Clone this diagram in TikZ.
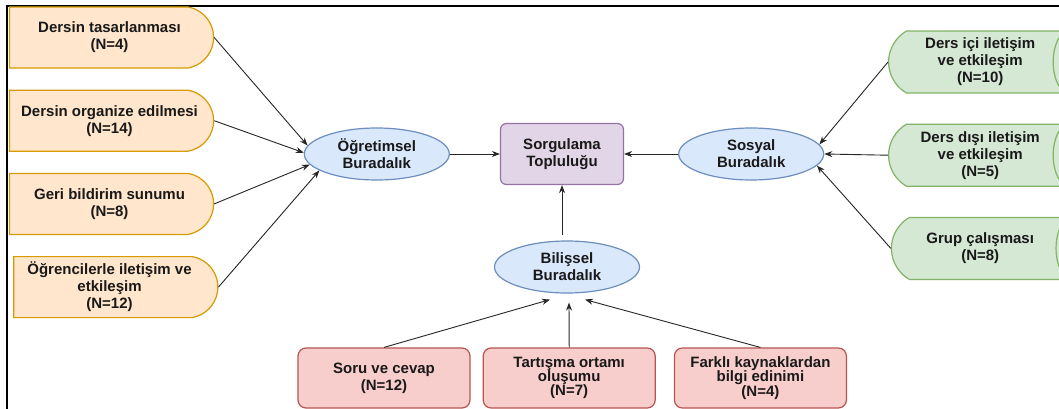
\documentclass[tikz,border=0pt]{standalone}
\usepackage{fontspec}
\setmainfont{Liberation Sans}
\usetikzlibrary{positioning}
\usetikzlibrary{shapes.geometric}
\usetikzlibrary{shapes.misc}
\usetikzlibrary{arrows.meta}
\definecolor{orfill}{HTML}{FFE6CC}
\definecolor{ordraw}{HTML}{D79B00}
\definecolor{grfill}{HTML}{D5E8D4}
\definecolor{grdraw}{HTML}{82B366}
\definecolor{rdfill}{HTML}{F8CECC}
\definecolor{rddraw}{HTML}{B85450}
\definecolor{blfill}{HTML}{DAE8FC}
\definecolor{bldraw}{HTML}{6C8EBF}
\definecolor{prfill}{HTML}{E1D5E7}
\definecolor{prdraw}{HTML}{9673A6}
\tikzset{%
  boxtext/.style={font=\bfseries\fontsize{15}{17}\selectfont,align=center,text=black!90,line width=1.2pt,inner sep=0pt}
}
\tikzset{%
  boxcolo/.style={boxtext,rounded rectangle,rounded rectangle west arc=none,rounded rectangle arc length=160,fill=orfill,draw=ordraw,minimum width=204pt,minimum height=61pt}
}
\tikzset{%
  boxcolg/.style={boxtext,rounded rectangle,rounded rectangle east arc=none,rounded rectangle arc length=120,fill=grfill,draw=grdraw,minimum width=174pt,minimum height=62pt}
}
\tikzset{%
  boxcolr/.style={boxtext,rectangle,rounded corners=8pt,fill=rdfill,draw=rddraw,minimum width=172pt,minimum height=60pt,font=\bfseries\fontsize{15}{14}\selectfont}
}
\tikzset{%
  boxcolp/.style={boxtext,rectangle,rounded corners=6pt,fill=prfill,draw=prdraw,minimum width=123pt,minimum height=61pt}
}
\tikzset{%
  elcolb/.style={boxtext,ellipse,fill=blfill,draw=bldraw,minimum width=145pt,minimum height=52pt}
}
\newcommand\kod[2]{#1\\(N=#2)}

\begin{document}
\begin{tikzpicture}[x=1pt,y=-1pt,node distance=21pt,
    arr/.style={-{Stealth[length=8pt,width=6pt]},line width=0.9pt,draw=black!85}]
    \useasboundingbox (0,0) rectangle (1059,409);
    \fill[white] (0,0) rectangle (1059,409);
    \draw[line width=1.3pt] (7,420) -- (7,6) -- (1070,6);

    \node[boxcolp] (sorg) at (562,154) {Sorgulama\\Topluluğu};
    \node[elcolb,left=50pt of sorg] (ogr) {Öğretimsel\\Buradalık};
    \node[elcolb,right=54pt of sorg] (sos) {Sosyal\\Buradalık};
    \node[elcolb] (bil) at (567,267) {Bilişsel\\Buradalık};

    \node[boxcolo,anchor=west] (o1) at (9,37.5) {\kod{Dersin tasarlanması}{4}};
    \node[boxcolo,below=of o1] (o2) {\kod{Dersin organize edilmesi}{14}};
    \node[boxcolo,below=of o2] (o3) {\kod{Geri bildirim sunumu}{8}};
    \node[boxcolo,below=of o3] (o4) {\kod{Öğrencilerle iletişim ve\\etkileşim}{12}};

    \node[boxcolg,anchor=west] (g1) at (888,62) {\kod{Ders içi iletişim\\ve etkileşim}{10}};
    \node[boxcolg,below=30pt of g1] (g2) {\kod{Ders dışı iletişim\\ve etkileşim}{5}};
    \node[boxcolg,below=30pt of g2] (g3) {\kod{Grup çalışması}{8}};
    % cylinder faces
    \foreach \g in {g1,g2,g3}
        \draw[grdraw,line width=1.2pt] ([xshift=8pt]\g.north east) .. controls ([xshift=-16pt]\g.north east) and ([xshift=-16pt]\g.south east) .. ([xshift=8pt]\g.south east);

    \node[boxcolr,font=\bfseries\fontsize{15}{17}\selectfont] (t1) at (384,378) {\kod{Soru ve cevap}{12}};
    \node[boxcolr,right=12pt of t1] (t2) {\kod{Tartışma ortamı\\oluşumu}{7}};
    \node[boxcolr,right=18pt of t2] (t3) {\kod{Farklı kaynaklardan\\bilgi edinimi}{4}};

    \draw[arr] (o1.east) -- (ogr.173);
    \draw[arr] (o2.east) -- (ogr.179);
    \draw[arr] (o3.east) -- (ogr.189);
    \draw[arr] (o4.east) -- (ogr.196);
    \draw[arr] (g1.west) -- (sos.8);
    \draw[arr] (g2.west) -- (sos.east);
    \draw[arr] (g3.west) -- (sos.350);
    \draw[arr] (ogr) -- (sorg);
    \draw[arr] (sos) -- (sorg);
    \draw[arr,shorten <=5pt] (sorg.south |- bil.north) -- (sorg.south);
    \draw[arr] (t1.north) -- ([xshift=-17pt,yshift=-6pt]bil.south);
    \draw[arr] (t2.north) -- ([xshift=2pt,yshift=-9pt]bil.south);
    \draw[arr] (t3.north) -- ([xshift=18pt,yshift=-6pt]bil.south);
\end{tikzpicture}
\end{document}
